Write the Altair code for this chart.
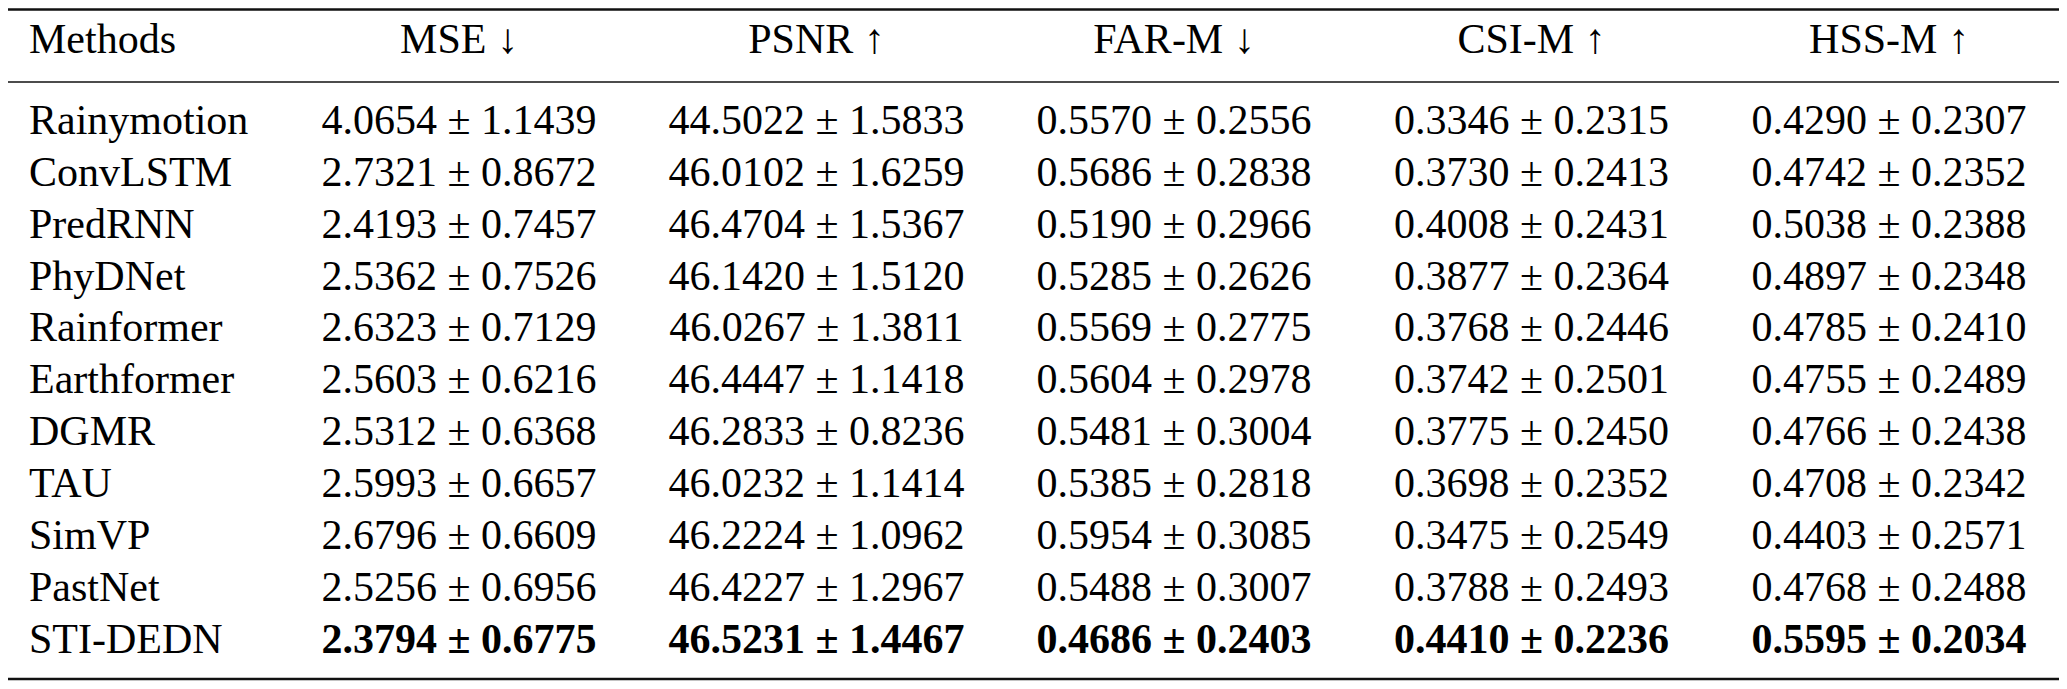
import altair as alt
import pandas as pd

methods = ["Rainymotion", "ConvLSTM", "PredRNN", "PhyDNet", "Rainformer",
           "Earthformer", "DGMR", "TAU", "SimVP", "PastNet", "STI-DEDN"]
metrics = ["MSE", "PSNR", "FAR-M", "CSI-M", "HSS-M"]
arrows = ["↓", "↑", "↓", "↑", "↑"]

mse_mean = [4.0654, 2.7321, 2.4193, 2.5362, 2.6323, 2.5603, 2.5312, 2.5993, 2.6796, 2.5256, 2.3794]
mse_std = [1.1439, 0.8672, 0.7457, 0.7526, 0.7129, 0.6216, 0.6368, 0.6657, 0.6609, 0.6956, 0.6775]
psnr_mean = [44.5022, 46.0102, 46.4704, 46.1420, 46.0267, 46.4447, 46.2833, 46.0232, 46.2224, 46.4227, 46.5231]
psnr_std = [1.5833, 1.6259, 1.5367, 1.5120, 1.3811, 1.1418, 0.8236, 1.1414, 1.0962, 1.2967, 1.4467]
far_mean = [0.5570, 0.5686, 0.5190, 0.5285, 0.5569, 0.5604, 0.5481, 0.5385, 0.5954, 0.5488, 0.4686]
far_std = [0.2556, 0.2838, 0.2966, 0.2626, 0.2775, 0.2978, 0.3004, 0.2818, 0.3085, 0.3007, 0.2403]
csi_mean = [0.3346, 0.3730, 0.4008, 0.3877, 0.3768, 0.3742, 0.3775, 0.3698, 0.3475, 0.3788, 0.4410]
csi_std = [0.2315, 0.2413, 0.2431, 0.2364, 0.2446, 0.2501, 0.2450, 0.2352, 0.2549, 0.2493, 0.2236]
hss_mean = [0.4290, 0.4742, 0.5038, 0.4897, 0.4785, 0.4755, 0.4766, 0.4708, 0.4403, 0.4768, 0.5595]
hss_std = [0.2307, 0.2352, 0.2388, 0.2348, 0.2410, 0.2489, 0.2438, 0.2342, 0.2571, 0.2488, 0.2034]

best_method = "STI-DEDN"

means = [mse_mean, psnr_mean, far_mean, csi_mean, hss_mean]
stds = [mse_std, psnr_std, far_std, csi_std, hss_std]

rows = []
for mi, metric in enumerate(metrics):
    for ri, method in enumerate(methods):
        rows.append({
            "method": method,
            "metric": metric,
            "text": f"{means[mi][ri]:.4f} ± {stds[mi][ri]:.4f}",
        })
cells = pd.DataFrame(rows)
names = pd.DataFrame({"method": methods})
headers = pd.DataFrame({"metric": metrics,
                        "label": [f"{m} {a}" for m, a in zip(metrics, arrows)]})

W, H = 2051, 673
FONT = "'Liberation Serif', 'Times New Roman', Times, 'DejaVu Serif', serif"
FS = 42

xscale = alt.Scale(type="point", domain=metrics, range=[451, 1881], padding=0)
yscale = alt.Scale(type="point", domain=methods, range=[126, 644.5], padding=0)

cell_base = alt.Chart(cells).encode(
    x=alt.X("metric:N", scale=xscale, axis=None),
    y=alt.Y("method:N", scale=yscale, axis=None),
    text="text:N",
)
cell_normal = cell_base.mark_text(
    font=FONT, fontSize=FS, baseline="alphabetic", align="center", color="#000000"
).transform_filter(alt.datum.method != best_method)
cell_bold = cell_base.mark_text(
    font=FONT, fontSize=FS, baseline="alphabetic", align="center", color="#000000",
    fontWeight="bold"
).transform_filter(alt.datum.method == best_method)

name_layer = alt.Chart(names).mark_text(
    font=FONT, fontSize=FS, baseline="alphabetic", align="left", color="#000000"
).encode(
    x=alt.value(21),
    y=alt.Y("method:N", scale=yscale, axis=None),
    text="method:N",
)

header_layer = alt.Chart(headers).mark_text(
    font=FONT, fontSize=FS, baseline="alphabetic", align="center", color="#000000"
).encode(
    x=alt.X("metric:N", scale=xscale, axis=None),
    y=alt.value(45),
    text="label:N",
)

methods_header = alt.Chart(pd.DataFrame({"label": ["Methods"]})).mark_text(
    font=FONT, fontSize=FS, baseline="alphabetic", align="left", color="#000000"
).encode(
    x=alt.value(21),
    y=alt.value(45),
    text="label:N",
)

one = pd.DataFrame({"k": [0]})
top_rule = alt.Chart(one).mark_rule(color="#111111", strokeWidth=2.6).encode(
    x=alt.value(0), x2=alt.value(W), y=alt.value(1.5))
mid_rule = alt.Chart(one).mark_rule(color="#111111", strokeWidth=1.7).encode(
    x=alt.value(0), x2=alt.value(W), y=alt.value(74))
bot_rule = alt.Chart(one).mark_rule(color="#111111", strokeWidth=2.6).encode(
    x=alt.value(0), x2=alt.value(W), y=alt.value(671))

chart = alt.layer(
    top_rule, mid_rule, bot_rule, methods_header, header_layer, name_layer,
    cell_normal, cell_bold
).properties(
    width=W, height=H, padding=0,
    autosize=alt.AutoSizeParams(type="none"),
    background="white",
).configure_view(stroke=None)

chart.save("out.html", embed_options={"renderer": "svg", "actions": False})
